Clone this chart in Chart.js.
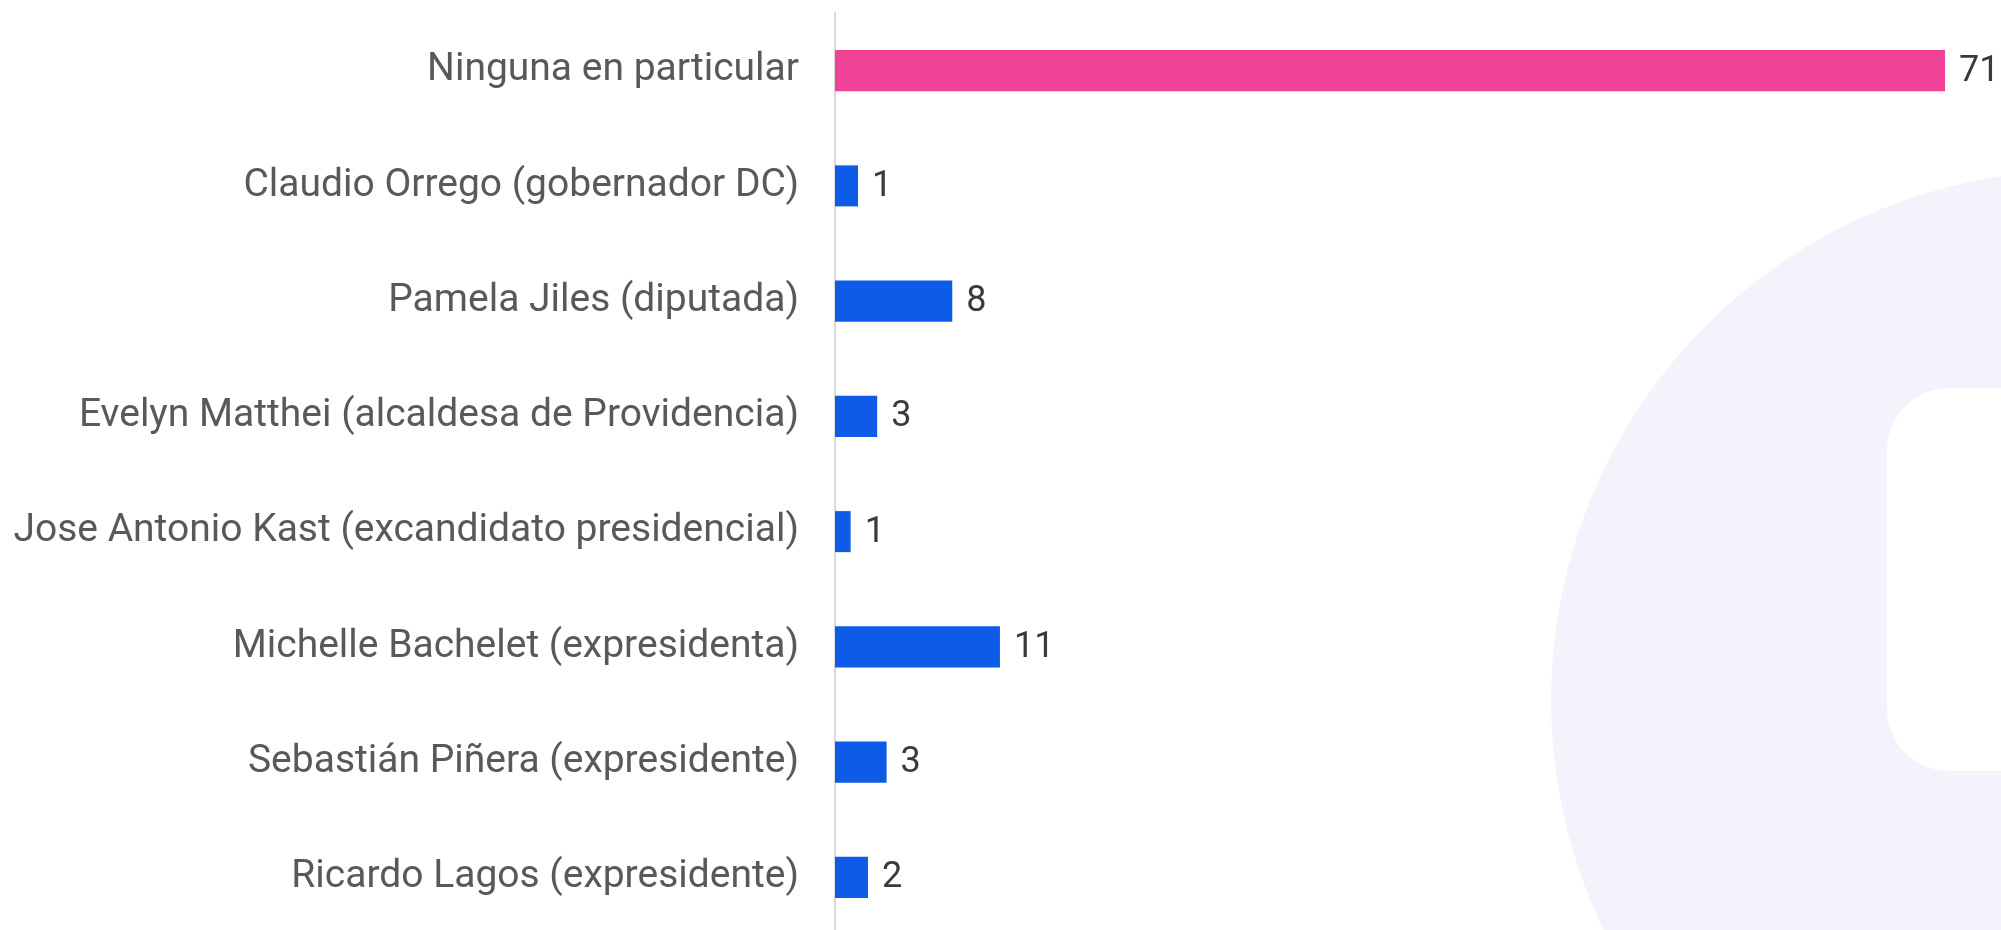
<!DOCTYPE html>
<html>
<head>
<meta charset="utf-8">
<script src="https://cdn.jsdelivr.net/npm/chart.js@4"></script>
<style>
  html, body { margin:0; padding:0; background:#ffffff; overflow:hidden; }
  #wrap { width:2001px; height:935px; }
</style>
</head>
<body>
<div id="wrap"><canvas id="barChart" width="2001" height="935"></canvas></div>
<script>
//Data
var categories = [
  "Ninguna en particular",
  "Claudio Orrego (gobernador DC)",
  "Pamela Jiles (diputada)",
  "Evelyn Matthei (alcaldesa de Providencia)",
  "Jose Antonio Kast (excandidato presidencial)",
  "Michelle Bachelet (expresidenta)",
  "Sebastián Piñera (expresidente)",
  "Ricardo Lagos (expresidente)"
];
var values = [71, 1.47, 7.5, 2.7, 1.0, 10.55, 3.3, 2.11];
var valueLabels = ["71", "1", "8", "3", "1", "11", "3", "2"];
var barColors = ["#ee4396", "#0d5be6", "#0d5be6", "#0d5be6", "#0d5be6", "#0d5be6", "#0d5be6", "#0d5be6"];

var fontName = "Roboto, 'Open Sans', sans-serif";

//Light logo in the background
var watermark = {
  id: "watermark",
  beforeDraw: function(chart){
    var ctx = chart.ctx;
    ctx.save();
    ctx.fillStyle = "#f2f3fb";
    ctx.beginPath();
    ctx.arc(2081, 700, 530, 0, Math.PI*2);
    ctx.fill();
    ctx.fillStyle = "#ffffff";
    ctx.beginPath();
    ctx.roundRect(1887, 388, 400, 383, 62);
    ctx.fill();
    ctx.restore();
  }
};

//Numbers at the end of each bar
var barValues = {
  id: "barValues",
  afterDatasetsDraw: function(chart){
    var ctx = chart.ctx;
    var meta = chart.getDatasetMeta(0);
    ctx.save();
    ctx.font = "36px " + fontName;
    ctx.fillStyle = "#3a3a3a";
    ctx.textAlign = "left";
    ctx.textBaseline = "middle";
    for(i = 0; i < meta.data.length; i++){
      var bar = meta.data[i];
      ctx.fillText(valueLabels[i], bar.x + 14, bar.y + 1);
    }
    ctx.restore();
  }
};

var ctxB = document.getElementById("barChart").getContext("2d");
var myBarChart = new Chart(ctxB, {
  type: "bar",
  data: {
    labels: categories,
    datasets: [{
      data: values,
      backgroundColor: barColors,
      borderWidth: 0,
      barPercentage: 0.356,
      categoryPercentage: 1
    }]
  },
  options: {
    indexAxis: "y",
    responsive: false,
    animation: false,
    layout: { padding: { top: 13, right: 0, bottom: 0, left: 0 } },
    plugins: {
      legend: { display: false },
      tooltip: { enabled: false }
    },
    scales: {
      x: {
        display: false,
        min: 0,
        max: 74.58
      },
      y: {
        afterFit: function(scale){
          scale.width = 835;
          scale.paddingTop = 0;
          scale.paddingBottom = 0;
        },
        grid: { display: false, drawTicks: false },
        border: { display: true, color: "#d9d9d9", width: 2 },
        ticks: {
          padding: 36,
          color: "#595959",
          font: { family: fontName, size: 39 }
        }
      }
    }
  },
  plugins: [watermark, barValues]
});
</script>
</body>
</html>
